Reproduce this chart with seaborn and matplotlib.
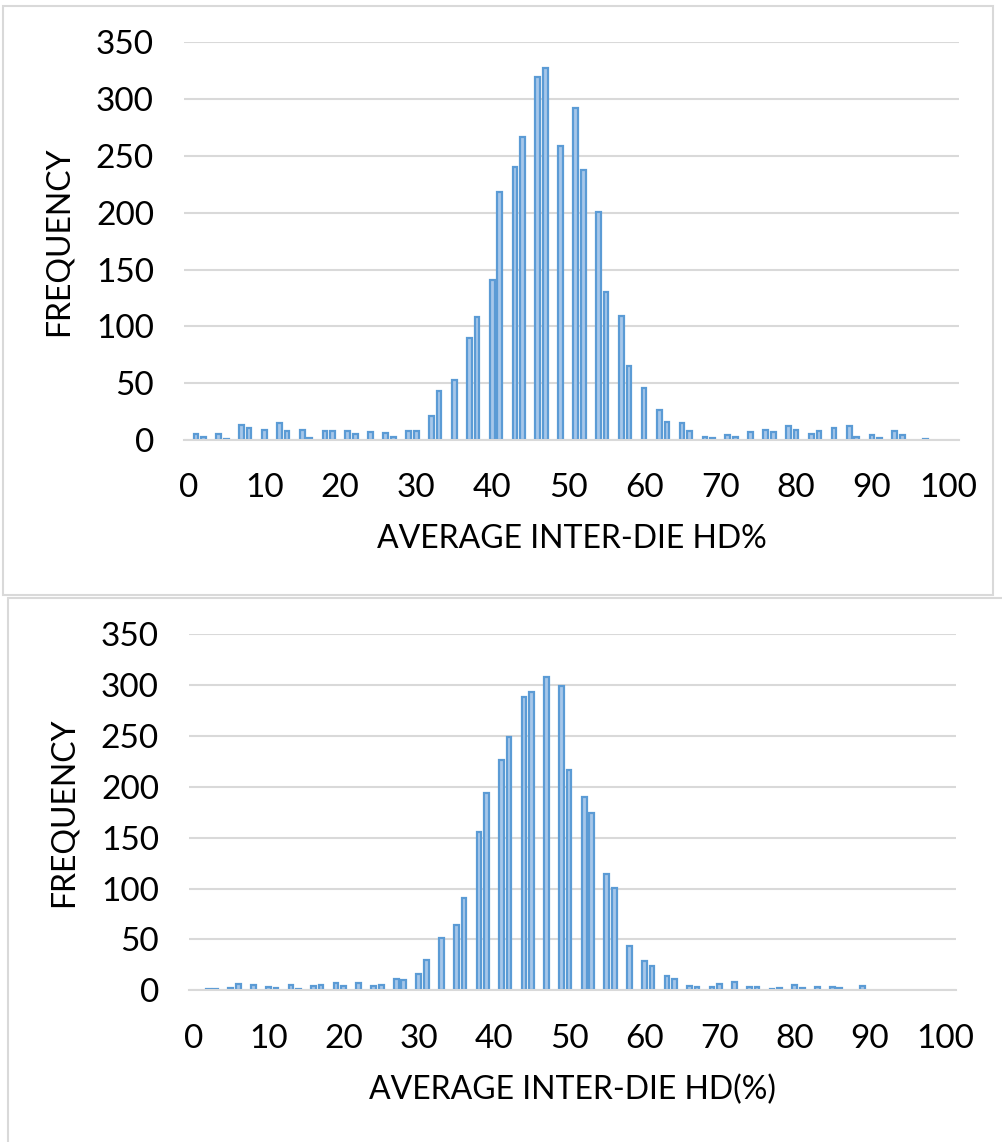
import matplotlib
matplotlib.use("Agg")
import matplotlib.pyplot as plt
import seaborn as sns
from matplotlib.patches import Rectangle

# =========================
# Data
# =========================
top_hd = [1, 2, 4, 5, 7, 8, 10, 12, 13, 15, 16, 18, 19, 21, 22, 24, 26, 27, 29, 30,
          32, 33, 35, 37, 38, 40, 41, 43, 44, 46, 47, 49, 51, 52, 54, 55, 57, 58, 60, 62,
          63, 65, 66, 68, 69, 71, 72, 74, 76, 77, 79, 80, 82, 83, 85, 87, 88, 90, 91, 93,
          94, 97]
top_freq = [5, 3, 5, 1, 13, 11, 9, 15, 8, 9, 2, 8, 8, 8, 5, 7, 6, 3, 8, 8,
            21, 43, 53, 90, 108, 141, 218, 240, 267, 319, 327, 259, 292, 238, 201, 130, 109, 65, 46, 26,
            16, 15, 8, 3, 2, 4, 3, 7, 9, 7, 12, 9, 5, 8, 11, 12, 3, 4, 2, 8,
            4, 1]

bottom_hd = [2, 3, 5, 6, 8, 10, 11, 13, 14, 16, 17, 19, 20, 22, 24, 25, 27, 28, 30, 31,
             33, 35, 36, 38, 39, 41, 42, 44, 45, 47, 49, 50, 52, 53, 55, 56, 58, 60, 61, 63,
             64, 66, 67, 69, 70, 72, 74, 75, 77, 78, 80, 81, 83, 85, 86, 89]
bottom_freq = [1, 1, 2, 6, 5, 3, 2, 5, 1, 4, 5, 7, 4, 7, 4, 5, 11, 10, 16, 30,
               51, 64, 91, 156, 194, 226, 249, 288, 293, 308, 299, 217, 190, 174, 114, 101, 44, 29, 24, 14,
               11, 4, 3, 3, 6, 8, 3, 3, 1, 2, 5, 2, 3, 3, 2, 4]

x_ticks = list(range(0, 101, 10))
y_ticks = list(range(0, 351, 50))

# =========================
# Style
# =========================
sns.set_theme(style="white")
plt.rcParams['font.family'] = ['Lato', 'DejaVu Sans']
plt.rcParams['text.color'] = 'black'
plt.rcParams['xtick.color'] = 'black'
plt.rcParams['ytick.color'] = 'black'
plt.rcParams['axes.labelcolor'] = 'black'

FACE = "#A7C7EA"
EDGE = "#5B9BD5"
GRID = "#D9D9D9"
FS = 24
LFS = 23

fig = plt.figure(figsize=(10.02, 11.42), dpi=100)

# chart-area borders (Excel style)
fig.patches.append(Rectangle((3 / 1002, 1 - 595 / 1142), 990 / 1002, 589 / 1142,
                             transform=fig.transFigure, fill=False,
                             edgecolor=GRID, linewidth=1.5))
fig.patches.append(Rectangle((8 / 1002, -0.01), 1.0, 1 - 598 / 1142 + 0.01,
                             transform=fig.transFigure, fill=False,
                             edgecolor=GRID, linewidth=1.5))

ax1 = fig.add_axes([0.1841, 0.6147, 0.7734, 0.3483])
ax2 = fig.add_axes([0.1891, 0.1328, 0.7653, 0.3119])


def draw(ax, hd, freq, xlabel):
    sns.barplot(x=hd, y=freq, native_scale=True, width=0.62, color=FACE,
                saturation=1, edgecolor=EDGE, linewidth=1.6, ax=ax)
    ax.set_xlim(-0.5, 101.5)
    ax.set_ylim(0, 350)
    ax.set_xticks(x_ticks)
    ax.set_xticklabels([str(t) for t in x_ticks], fontsize=FS)
    ax.set_yticks(y_ticks)
    ax.set_yticklabels([str(t) for t in y_ticks], fontsize=FS)
    ax.yaxis.grid(True, color=GRID, linewidth=1.5)
    ax.xaxis.grid(False)
    ax.set_axisbelow(True)
    for s in ["top", "right", "left"]:
        ax.spines[s].set_visible(False)
    ax.spines["bottom"].set_color(GRID)
    ax.spines["bottom"].set_linewidth(1.5)
    ax.tick_params(axis="x", length=0, pad=24)
    ax.tick_params(axis="y", length=0, pad=22)
    ax.set_xlabel(xlabel, fontsize=LFS, labelpad=15)
    ax.set_ylabel("FREQUENCY", fontsize=LFS, labelpad=16)


draw(ax1, top_hd, top_freq, "AVERAGE INTER-DIE HD%")
draw(ax2, bottom_hd, bottom_freq, "AVERAGE INTER-DIE HD(%)")

plt.savefig("out.png", dpi=100)
